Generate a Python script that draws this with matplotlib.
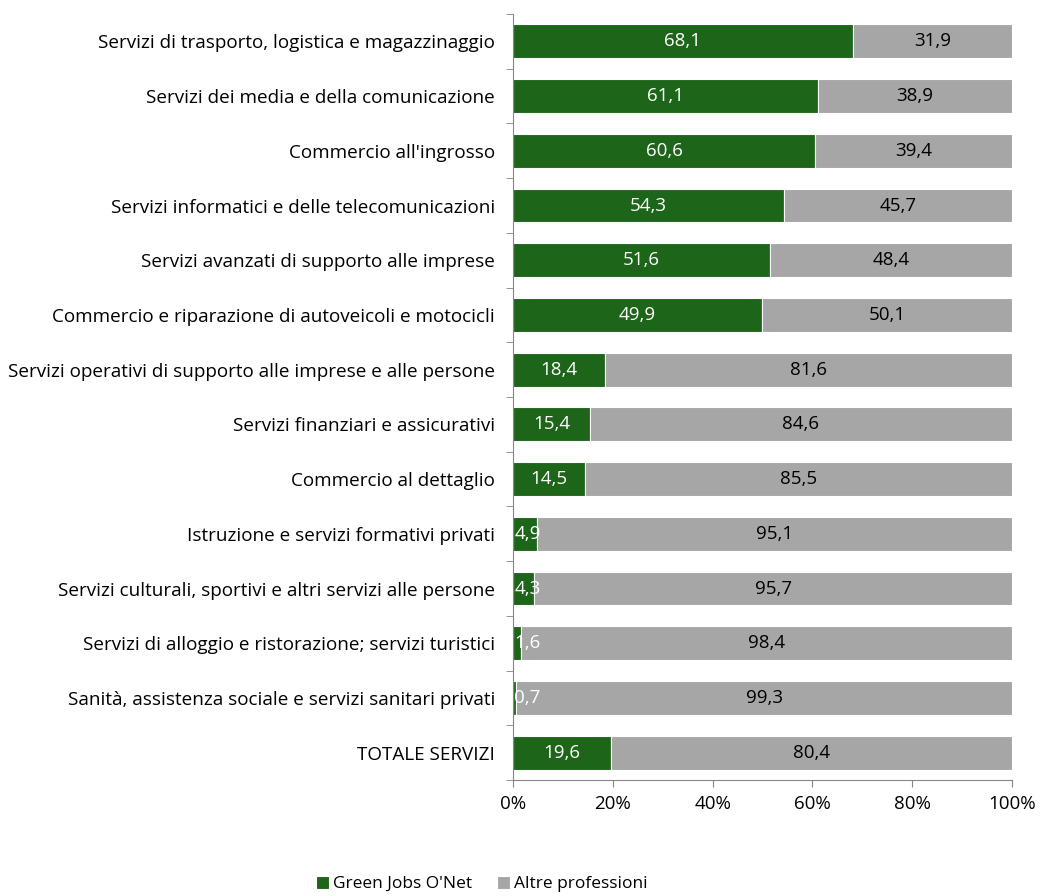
import matplotlib
matplotlib.use('Agg')
import matplotlib.pyplot as plt
import numpy as np

categories = [
    'Servizi di trasporto, logistica e magazzinaggio',
    'Servizi dei media e della comunicazione',
    "Commercio all'ingrosso",
    'Servizi informatici e delle telecomunicazioni',
    'Servizi avanzati di supporto alle imprese',
    'Commercio e riparazione di autoveicoli e motocicli',
    'Servizi operativi di supporto alle imprese e alle persone',
    'Servizi finanziari e assicurativi',
    'Commercio al dettaglio',
    'Istruzione e servizi formativi privati',
    'Servizi culturali, sportivi e altri servizi alle persone',
    'Servizi di alloggio e ristorazione; servizi turistici',
    'Sanità, assistenza sociale e servizi sanitari privati',
    'TOTALE SERVIZI',
]
green_jobs = [68.1, 61.1, 60.6, 54.3, 51.6, 49.9, 18.4, 15.4, 14.5, 4.9, 4.3, 1.6, 0.7, 19.6]
altre = [31.9, 38.9, 39.4, 45.7, 48.4, 50.1, 81.6, 84.6, 85.5, 95.1, 95.7, 98.4, 99.3, 80.4]
series_names = ["Green Jobs O'Net", 'Altre professioni']

GREEN = '#1D6519'
GRAY = '#A6A6A6'
AXIS = '#868686'

plt.rcParams['font.family'] = ['Open Sans', 'DejaVu Sans']

fig = plt.figure(figsize=(10.41, 8.96), dpi=100)
ax = fig.add_axes([513 / 1041, 1 - 780 / 896, (1012 - 513) / 1041, (780 - 14) / 896])

y = np.arange(len(categories))
h = 0.62
ax.barh(y, green_jobs, height=h, color=GREEN, edgecolor='white', linewidth=0.8, label=series_names[0])
ax.barh(y, altre, left=green_jobs, height=h, color=GRAY, edgecolor='white', linewidth=0.8, label=series_names[1])

for i, (g, a) in enumerate(zip(green_jobs, altre)):
    ax.text(max(g / 2, 2.9), i, f'{g:.1f}'.replace('.', ','), ha='center', va='center',
            color='white', fontsize=13.5)
    ax.text(g + a / 2, i, f'{a:.1f}'.replace('.', ','), ha='center', va='center',
            color='black', fontsize=13.5)

ax.set_ylim(len(categories) - 0.5, -0.5)
ax.set_xlim(0, 100)
ax.set_yticks(y)
ax.set_yticklabels(categories, fontsize=13.6)
ax.set_yticks(np.arange(-0.5, len(categories), 1), minor=True)
ax.tick_params(axis='y', which='major', length=0, pad=13)
ax.tick_params(axis='y', which='minor', length=5, color=AXIS, direction='out')
ax.set_xticks(np.arange(0, 101, 20))
ax.set_xticklabels([f'{v}%' for v in range(0, 101, 20)], fontsize=13.5)
ax.tick_params(axis='x', length=5, color=AXIS, direction='out', pad=6)

for s in ['top', 'right']:
    ax.spines[s].set_visible(False)
for s in ['left', 'bottom']:
    ax.spines[s].set_color(AXIS)

handles, labels = ax.get_legend_handles_labels()
fig.legend(handles, labels, loc='center', bbox_to_anchor=(482 / 1041, 1 - 884 / 896),
           ncol=2, frameon=False, fontsize=12.5, handlelength=0.75, handleheight=0.75,
           handletextpad=0.25, columnspacing=1.4)

fig.savefig('out.png', dpi=100)
